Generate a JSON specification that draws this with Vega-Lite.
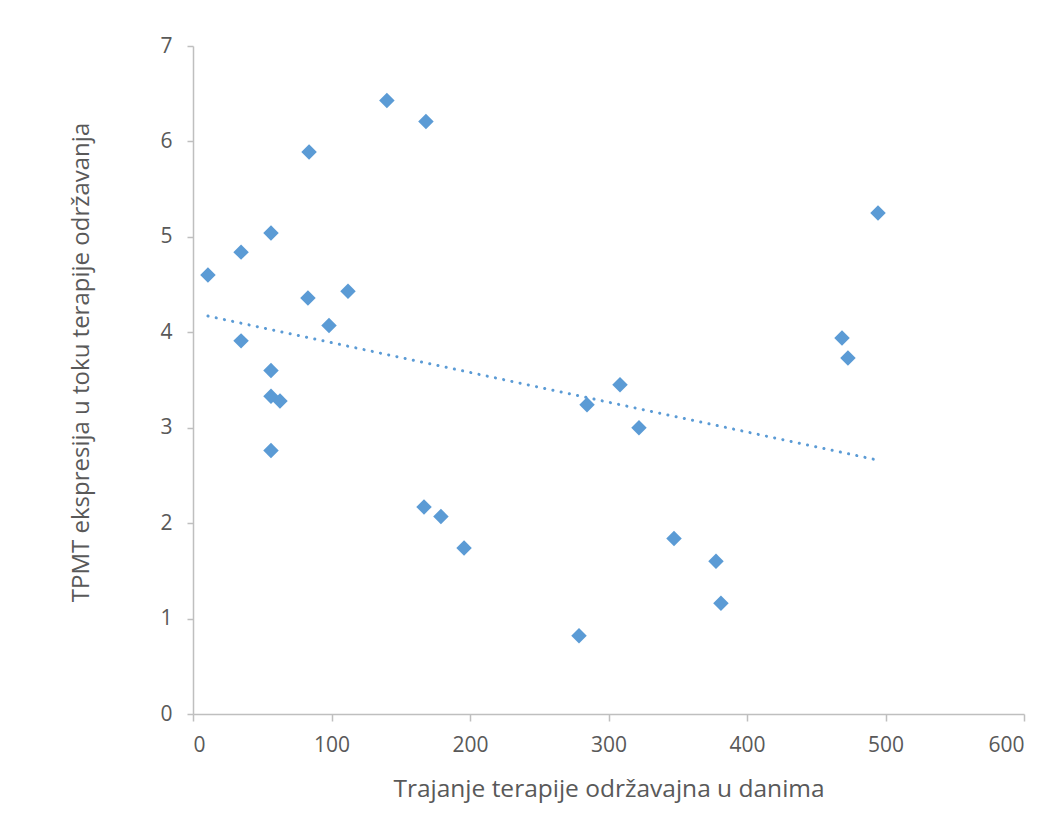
{
  "$schema": "https://vega.github.io/schema/vega-lite/v6.json",
  "width": 831,
  "height": 668,
  "autosize": {"type": "none"},
  "padding": {"left": 193, "top": 46, "right": 28, "bottom": 126},
  "background": "white",
  "config": {
    "view": {"stroke": null},
    "font": "Open Sans",
    "axis": {
      "grid": false,
      "domainColor": "#bfbfbf",
      "domainWidth": 1.5,
      "tickColor": "#bfbfbf",
      "tickWidth": 1.5,
      "tickSize": 7,
      "labelColor": "#595959",
      "labelFont": "Open Sans",
      "labelFontSize": 21,
      "titleColor": "#595959",
      "titleFont": "Open Sans",
      "titleFontSize": 23,
      "titleFontWeight": "normal"
    }
  },
  "datasets": {
    "points": [
      {"days": 10.8, "tpmt": 4.60},
      {"days": 34.7, "tpmt": 4.84},
      {"days": 34.7, "tpmt": 3.91},
      {"days": 56.3, "tpmt": 5.04},
      {"days": 56.3, "tpmt": 3.60},
      {"days": 56.3, "tpmt": 3.33},
      {"days": 62.8, "tpmt": 3.28},
      {"days": 56.3, "tpmt": 2.76},
      {"days": 83.8, "tpmt": 5.89},
      {"days": 83.0, "tpmt": 4.36},
      {"days": 98.2, "tpmt": 4.07},
      {"days": 111.9, "tpmt": 4.43},
      {"days": 140.0, "tpmt": 6.43},
      {"days": 168.2, "tpmt": 6.21},
      {"days": 166.8, "tpmt": 2.17},
      {"days": 179.0, "tpmt": 2.07},
      {"days": 195.7, "tpmt": 1.74},
      {"days": 278.7, "tpmt": 0.82},
      {"days": 284.5, "tpmt": 3.24},
      {"days": 308.3, "tpmt": 3.45},
      {"days": 322.0, "tpmt": 3.00},
      {"days": 347.3, "tpmt": 1.84},
      {"days": 377.6, "tpmt": 1.60},
      {"days": 381.2, "tpmt": 1.16},
      {"days": 468.6, "tpmt": 3.94},
      {"days": 472.9, "tpmt": 3.73},
      {"days": 494.6, "tpmt": 5.25}
    ],
    "trend": [
      {"days": 10.8, "tpmt": 4.17},
      {"days": 494.6, "tpmt": 2.66}
    ]
  },
  "encoding": {
    "x": {
      "field": "days",
      "type": "quantitative",
      "scale": {"domain": [0, 600], "nice": false},
      "axis": {
        "values": [0, 100, 200, 300, 400, 500, 600],
        "title": "Trajanje terapije održavajna u danima",
        "titleFontSize": 24.5,
        "labelPadding": 13,
        "titlePadding": 22
      }
    },
    "y": {
      "field": "tpmt",
      "type": "quantitative",
      "scale": {"domain": [0, 7], "nice": false},
      "axis": {
        "values": [0, 1, 2, 3, 4, 5, 6, 7],
        "title": "TPMT ekspresija u toku terapije održavanja",
        "titleFontSize": 24,
        "titleY": 316,
        "tickSize": 6,
        "labelPadding": 15,
        "titlePadding": 66
      }
    }
  },
  "layer": [
    {
      "data": {"name": "trend"},
      "mark": {"type": "line", "color": "#5b9bd5", "strokeWidth": 3, "strokeDash": [0.1, 8.3], "strokeCap": "round"}
    },
    {
      "data": {"name": "points"},
      "mark": {"type": "point", "shape": "diamond", "filled": true, "size": 240, "color": "#5b9bd5", "opacity": 1}
    }
  ]
}
